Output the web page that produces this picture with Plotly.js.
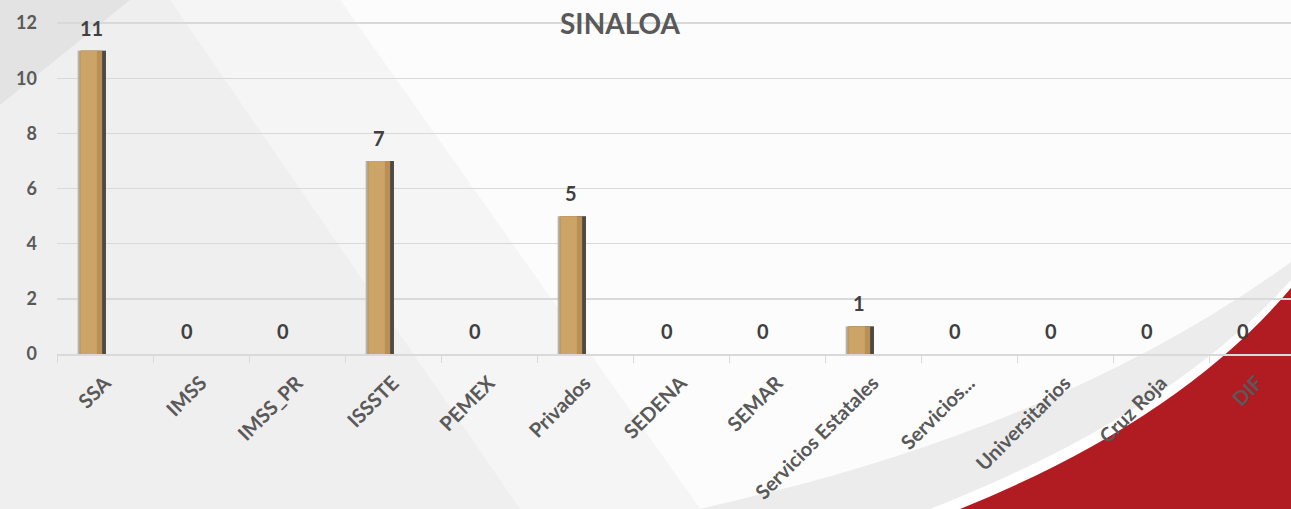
<!DOCTYPE html>
<html>
<head>
<meta charset="utf-8">
<script src="https://cdn.plot.ly/plotly-3.0.1.min.js"></script>
<style>html,body{margin:0;padding:0;background:#f0f0f0;}#chart{width:1291px;height:509px;}</style>
</head>
<body>
<div id="chart"></div>
<script>
const categories = ["SSA","IMSS","IMSS_PR","ISSSTE","PEMEX","Privados","SEDENA","SEMAR","Servicios Estatales","Servicios...","Universitarios","Cruz Roja","DIF"];
const values = [11,0,0,7,0,5,0,0,1,0,0,0,0];
const yTicks = [0,2,4,6,8,10,12];
const chartTitle = "SINALOA";

const W = 1291, H = 509, L = 57, R = 0, T = 22, B = 155;
const pw = W - L - R, ph = H - T - B;
// pixel -> paper conversion, only for the background decoration
const px = x => ((x - L) / pw).toFixed(4);
const py = y => ((H - B - y) / ph).toFixed(4);
const FONT = 'Lato, "Open Sans", sans-serif';

const shapes = [
  {type:'path', xref:'paper', yref:'paper', layer:'below', line:{width:0}, fillcolor:'#e3e3e3',
   path:`M ${px(0)} ${py(0)} L ${px(130)} ${py(0)} L ${px(0)} ${py(105)} Z`},
  {type:'path', xref:'paper', yref:'paper', layer:'below', line:{width:0}, fillcolor:'#f5f5f5',
   path:`M ${px(170)} ${py(0)} L ${px(340)} ${py(0)} L ${px(700)} ${py(509)} L ${px(520)} ${py(509)} Z`},
  {type:'path', xref:'paper', yref:'paper', layer:'below', line:{width:0}, fillcolor:'#fcfcfc',
   path:`M ${px(340)} ${py(0)} L ${px(1291)} ${py(0)} L ${px(1291)} ${py(265)} Q ${px(1080)} ${py(420)} ${px(820)} ${py(480)} L ${px(700)} ${py(509)} Z`},
  {type:'path', xref:'paper', yref:'paper', layer:'below', line:{width:0}, fillcolor:'#ececec',
   path:`M ${px(1291)} ${py(262)} Q ${px(1060)} ${py(430)} ${px(700)} ${py(509)} L ${px(960)} ${py(509)} Q ${px(1180)} ${py(420)} ${px(1291)} ${py(286)} Z`},
  {type:'path', xref:'paper', yref:'paper', layer:'below', line:{width:0}, fillcolor:'#ffffff',
   path:`M ${px(1291)} ${py(280)} Q ${px(1170)} ${py(415)} ${px(930)} ${py(509)} L ${px(960)} ${py(509)} Q ${px(1180)} ${py(420)} ${px(1291)} ${py(288)} Z`},
  {type:'path', xref:'paper', yref:'paper', layer:'below', line:{width:0}, fillcolor:'#b01c22',
   path:`M ${px(960)} ${py(509)} Q ${px(1180)} ${py(420)} ${px(1291)} ${py(288)} L ${px(1291)} ${py(509)} Z`}
];

const common = {x: categories, y: values, type:'bar', hoverinfo:'skip', showlegend:false};
const traces = [
  Object.assign({}, common, {offset:-0.285, width:0.295, marker:{color:'#b4b4b4'}}),
  Object.assign({}, common, {offset:-0.25, width:0.26, marker:{color:'#4e4a44'}}),
  Object.assign({}, common, {offset:-0.265, width:0.235, marker:{color:'#b98f55'}}),
  Object.assign({}, common, {offset:-0.255, width:0.17, marker:{color:'#cda468'}})
];

const annotations = categories.map((c, i) => ({
  x: c, y: values[i], xref:'x', yref:'y', text: String(values[i]), showarrow:false,
  xshift:-14, yshift:23, yanchor:'middle', xanchor:'center',
  font:{family:FONT, size:20, color:'#404040', weight:'bold'}
}));

const layout = {
  width: W, height: H,
  margin: {l:L, r:R, t:T, b:B, pad:0},
  paper_bgcolor:'#efefef', plot_bgcolor:'rgba(0,0,0,0)',
  barmode:'overlay',
  title: {text: chartTitle, x: 620 / W, xanchor:'center', y: 1 - 24 / H, yanchor:'middle',
          font:{family:FONT, size:28, color:'#595959', weight:'bold'}},
  xaxis: {type:'category', range:[-0.5, 12.354], showgrid:false, showline:true, linecolor:'#d9d9d9', linewidth:1.5,
          ticks:'outside', tickson:'boundaries', ticklen:7, tickcolor:'#d9d9d9', tickangle:-45,
          ticklabelstandoff:8,
          tickfont:{family:FONT, size:20, color:'#595959', weight:'bold'}, fixedrange:true},
  yaxis: {range:[0,12.04], tickvals:yTicks, showline:false, zeroline:false, gridcolor:'#d9d9d9', gridwidth:1.5,
          ticklabelstandoff:19,
          tickfont:{family:FONT, size:18, color:'#595959', weight:'bold'}, fixedrange:true},
  shapes: shapes,
  annotations: annotations
};

Plotly.newPlot('chart', traces, layout, {displayModeBar:false, staticPlot:true});
</script>
</body>
</html>
